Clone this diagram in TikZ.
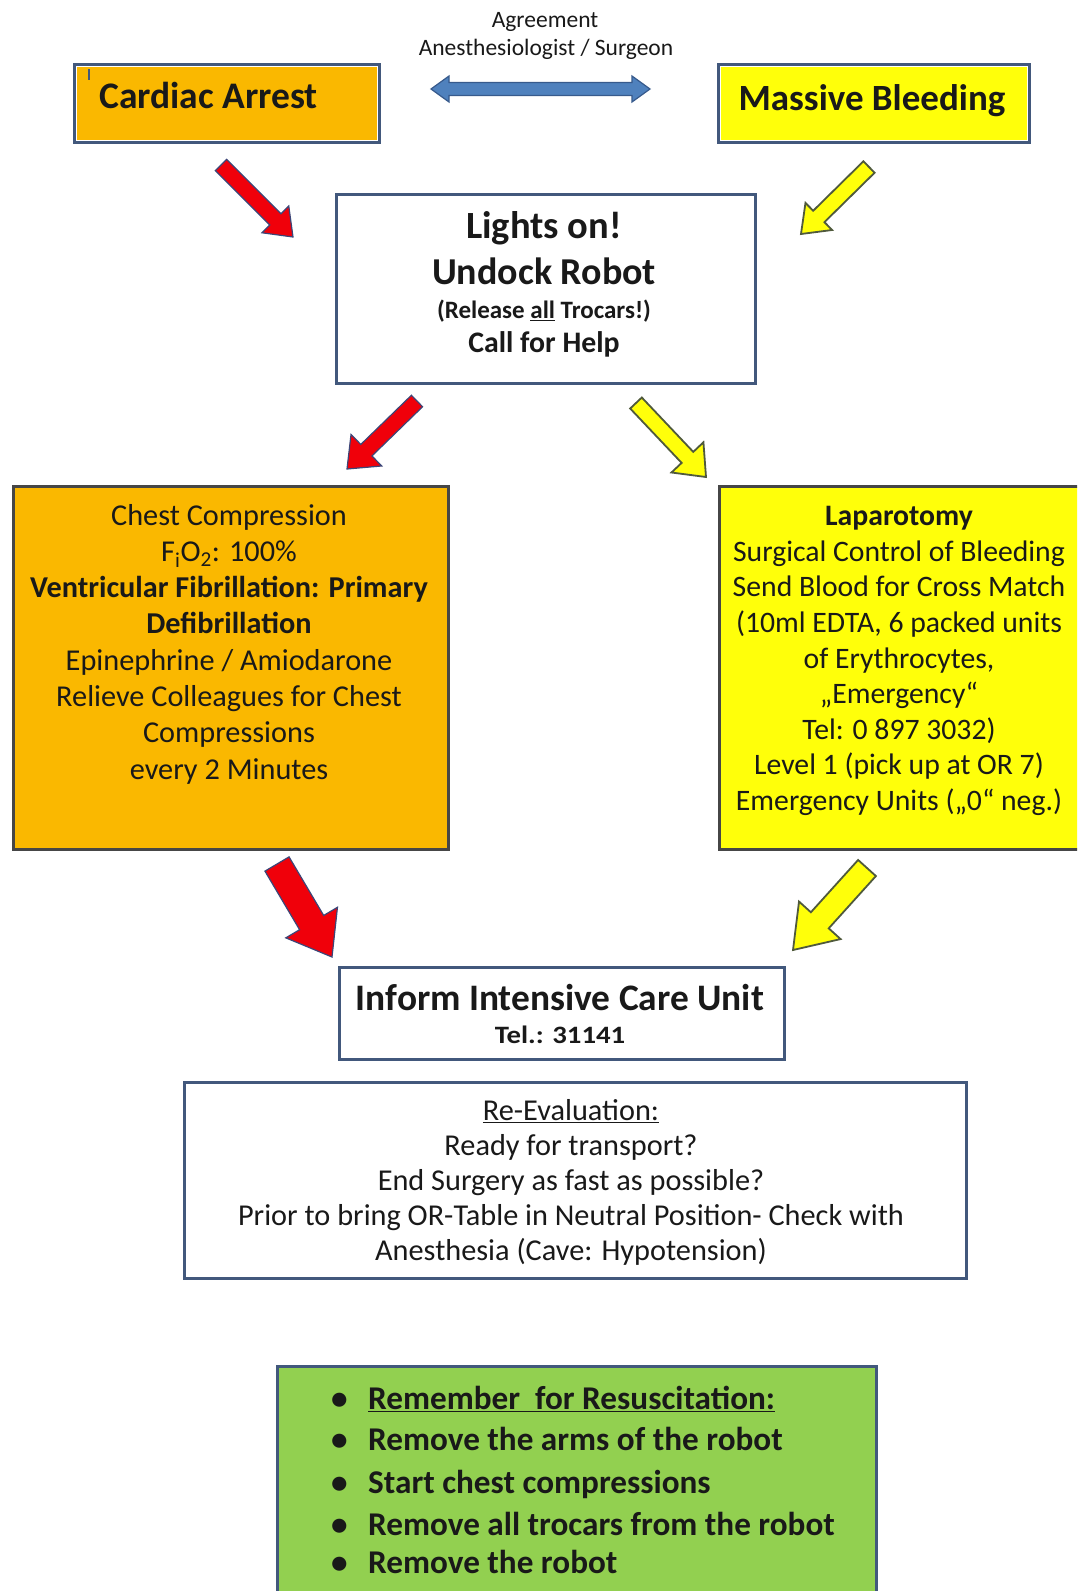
\documentclass[tikz,border=0pt]{standalone}
\usepackage{fontspec}
\setmainfont{Carlito}
\usetikzlibrary{calc}
\definecolor{borderc}{RGB}{66,88,124}
\definecolor{darkbord}{RGB}{70,70,70}
\definecolor{orangec}{RGB}{250,184,0}
\definecolor{yellowc}{RGB}{255,255,10}
\definecolor{greenc}{RGB}{146,208,80}
\definecolor{redc}{RGB}{240,0,10}
\definecolor{redline}{RGB}{60,70,120}
\definecolor{yelline}{RGB}{80,90,60}
\definecolor{bluec}{RGB}{79,129,189}
\definecolor{blueline}{RGB}{55,90,140}
\definecolor{txtc}{RGB}{25,25,25}
\newcommand\setfs[2]{\fontsize{#1}{#2}\selectfont}
% block arrow: from, to, half shaft, half head, head length, fill, draw, line width
\newcommand\blockarr[8]{%
  \coordinate (ba-c) at ($(#2)!#5!(#1)$);
  \draw[fill=#6, draw=#7, line width=#8, line join=miter]
    ($(#1)!#3!90:(#2)$) -- ($(ba-c)!#3!-90:(#1)$) -- ($(ba-c)!#4!-90:(#1)$) -- (#2)
    -- ($(ba-c)!#4!90:(#1)$) -- ($(ba-c)!#3!90:(#1)$) -- ($(#1)!#3!-90:(#2)$) -- cycle;
}
\tikzset{
  box/.style={draw=borderc, line width=3pt, inner sep=0pt, anchor=north west},
  line/.style={anchor=mid, inner sep=0pt, text=txtc},
  bul/.style={anchor=mid west, inner sep=0pt, text=txtc, font=\setfs{33.2}{40}\bfseries}
}
\begin{document}
\begin{tikzpicture}[x=1pt,y=-1pt]
\clip (0,0) rectangle (1077,1591);
\fill[white] (0,0) rectangle (1077,1591);

% top label and double arrow
\node[line, font=\setfs{23.5}{27}] (agr1) at (545,25) {Agreement};
\node[line, font=\setfs{23.5}{27}] (agr2) at (546,53) {Anesthesiologist / Surgeon};
\coordinate (dl) at (431,89);
\coordinate (dr) at (650,89);
\draw[fill=bluec, draw=blueline, line width=1.2pt, line join=miter]
  (dl) -- ++(18,-13) -- ++(0,6.5) -- ($(dr)+(-18,-6.5)$) -- ++(0,-6.5) -- (dr)
  -- ++(-18,13) -- ++(0,-6.5) -- ($(dl)+(18,6.5)$) -- ++(0,6.5) -- cycle;

% Cardiac Arrest
\node[box, fill=white, minimum width=305pt, minimum height=78pt] (ca) at (73,63) {};
\fill[orangec] ($(ca.north west)+(4,4)$) rectangle ($(ca.south east)+(-4,-4)$);
\draw[borderc, line width=1.5pt] (89,69) -- (89,80);
\node[anchor=mid west, inner sep=0pt, text=txtc, font=\setfs{37.5}{44}\bfseries] (catxt) at (99,106) {Cardiac Arrest};

% Massive Bleeding
\node[box, fill=white, minimum width=311pt, minimum height=78pt] (mb) at (717,63) {};
\fill[yellowc] ($(mb.north west)+(4,4)$) rectangle ($(mb.south east)+(-4,-4)$);
\node[line, font=\setfs{37}{44}\bfseries] (mbtxt) at (872,108) {Massive Bleeding};

% Lights on box
\node[box, fill=white, minimum width=419pt, minimum height=189pt] (lo) at (335,193) {};
\node[line, font=\setfs{38.5}{46}\bfseries] (lo1) at (544,236) {Lights on!};
\node[line, font=\setfs{38}{46}\bfseries] (lo2) at (544,282) {Undock Robot};
\node[line, font=\setfs{25}{30}\bfseries] (lo3) at (544,316) {(Release \underline{all} Trocars!)};
\node[line, font=\setfs{29.8}{35}\bfseries] (lo4) at (544,350) {Call for Help};

% arrows top
\coordinate (a1s) at (221,165);
\coordinate (a1e) at (293,237);
\blockarr{a1s}{a1e}{8pt}{19pt}{25pt}{redc}{redline}{1.2pt}
\coordinate (a2s) at (869,167);
\coordinate (a2e) at (801,234);
\blockarr{a2s}{a2e}{8pt}{19pt}{25pt}{yellowc}{yelline}{1.8pt}

% Chest box
\node[box, draw=darkbord, fill=orangec, minimum width=435pt, minimum height=363pt] (cc) at (12,485) {};
\node[align=center, inner sep=0pt, text=txtc, font=\setfs{30.3}{36.3}] (cctxt) at (229,644)
 {Chest Compression\\
  F\textsubscript{i}O\textsubscript{2}: 100\%\\
  \textbf{Ventricular Fibrillation: Primary}\\
  \textbf{Defibrillation}\\
  Epinephrine / Amiodarone\\
  Relieve Colleagues for Chest\\
  Compressions\\
  every 2 Minutes};

% Laparotomy box
\node[box, draw=darkbord, fill=yellowc, minimum width=380pt, minimum height=363pt] (lp) at (718,485) {};
\node[align=center, inner sep=0pt, text=txtc, font=\setfs{29.7}{35.6}] (lptxt) at (899,661)
 {\textbf{Laparotomy}\\
  Surgical Control of Bleeding\\
  Send Blood for Cross Match\\
  (10ml EDTA, 6 packed units\\
  of Erythrocytes,\\
  „Emergency“\\
  Tel: 0 897 3032)\\
  Level 1 (pick up at OR 7)\\
  Emergency Units („0“ neg.)};

% arrows middle
\coordinate (a3s) at (417,401);
\coordinate (a3e) at (347,469);
\blockarr{a3s}{a3e}{8pt}{22pt}{27pt}{redc}{redline}{1.2pt}
\coordinate (a4s) at (636,403);
\coordinate (a4e) at (706,477);
\blockarr{a4s}{a4e}{8pt}{22pt}{27pt}{yellowc}{yelline}{1.8pt}

% arrows bottom
\coordinate (a5s) at (277,864);
\coordinate (a5e) at (332,957);
\blockarr{a5s}{a5e}{14pt}{30pt}{40pt}{redc}{redline}{1.2pt}
\coordinate (a6s) at (867,868);
\coordinate (a6e) at (793,950);
\blockarr{a6s}{a6e}{12pt}{28pt}{40pt}{yellowc}{yelline}{1.8pt}

% ICU box
\node[box, fill=white, minimum width=445pt, minimum height=92pt] (icu) at (338,966) {};
\node[line, font=\setfs{37.4}{44}\bfseries] (icu1) at (560,1008) {Inform Intensive Care Unit};
\node[line, font=\setfs{25}{30}\bfseries] (icu2) at (560,1041) {\scalebox{1.15}[1]{Tel.: 31141}};

% Re-Evaluation box
\node[box, fill=white, minimum width=782pt, minimum height=196pt] (re) at (183,1081) {};
\node[align=center, inner sep=0pt, text=txtc, font=\setfs{30.3}{35}] (retxt) at (571,1182)
 {\underline{Re-Evaluation:}\\
  Ready for transport?\\
  End Surgery as fast as possible?\\
  Prior to bring OR-Table in Neutral Position- Check with\\
  Anesthesia (Cave: Hypotension)};

% Green box
\node[box, fill=greenc, minimum width=599pt, minimum height=260pt] (gr) at (276,1365) {};
\node[bul] (g1) at (331,1407) {\makebox[37pt][l]{•}\underline{Remember\ \ for Resuscitation:}};
\node[bul] (g2) at (331,1448) {\makebox[37pt][l]{•}Remove the arms of the robot};
\node[bul] (g3) at (331,1491) {\makebox[37pt][l]{•}Start chest compressions};
\node[bul] (g4) at (331,1533) {\makebox[37pt][l]{•}Remove all trocars from the robot};
\node[bul] (g5) at (331,1571) {\makebox[37pt][l]{•}Remove the robot};
\end{tikzpicture}
\end{document}
